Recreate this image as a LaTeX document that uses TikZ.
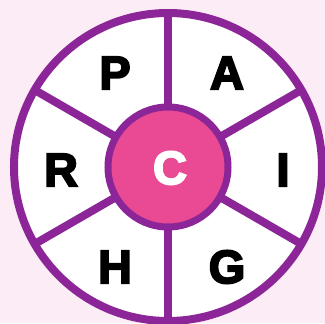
\documentclass[tikz,border=0pt]{standalone}
\usepackage{fontspec}
\setmainfont{Liberation Sans}
\newfontfamily\lourde[FakeBold=4]{Liberation Sans Bold}
\usetikzlibrary{calc}
\definecolor{violetRoue}{RGB}{140,38,152}
\definecolor{roseCentre}{RGB}{234,74,148}
\definecolor{fondRose}{RGB}{252,236,245}

\begin{document}
\begin{tikzpicture}[x=0.03cm, y=0.03cm,
    lettre/.style={font=\lourde\fontsize{40}{40}\selectfont, inner sep=0pt},
    rayon/.style={draw=violetRoue, line width=0.24cm}]

\fill[fondRose] (0,0) rectangle (325,323);
\useasboundingbox (0,0) rectangle (325,323);

\node[circle, draw=violetRoue, fill=white, line width=0.24cm, minimum size=9.24cm,
      inner sep=0pt, outer sep=0pt] (rim) at (168,156) {};
\node[circle, draw=violetRoue, fill=roseCentre, line width=0.21cm, minimum size=3.6cm,
      inner sep=0pt, outer sep=0pt] (centre) at (168,156) {};

\foreach \a in {90,30,-30,-90,-150,150}
  \draw[rayon] (centre.\a) -- (rim.\a);

\coordinate (milieu) at ($(centre)+(3,-3)$);
\node[lettre, text=white] (c) at ($(centre)+(2,-1)$) {C};
\node[lettre] (p) at ($(milieu)+(120:112)$) {P};
\node[lettre] (a) at ($(milieu)+(60:112)$) {A};
\node[lettre] (i) at ($(milieu)+(0:112)$) {I};
\node[lettre] (g) at ($(milieu)+(-60:112)$) {G};
\node[lettre] (h) at ($(milieu)+(-120:112)$) {H};
\node[lettre] (r) at ($(milieu)+(180:110)$) {R};

\end{tikzpicture}
\end{document}
